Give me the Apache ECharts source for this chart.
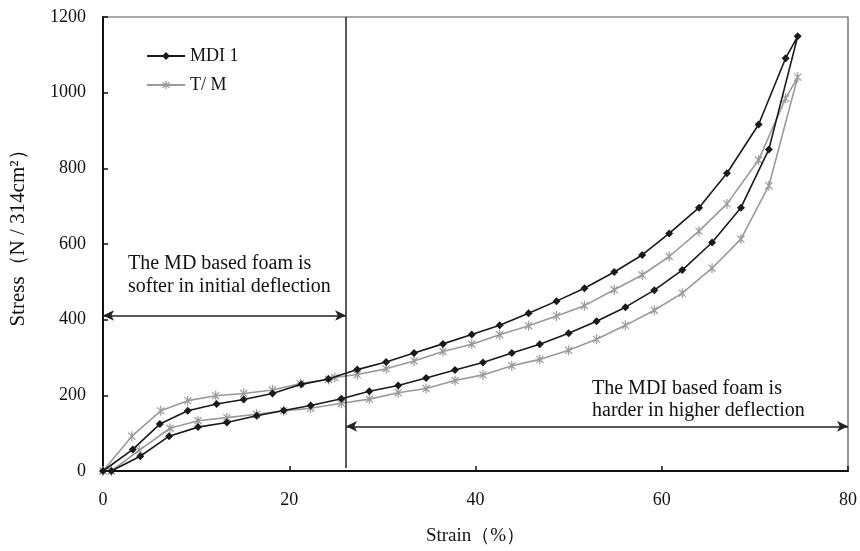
<!DOCTYPE html>
<html>
<head>
<meta charset="utf-8">
<script src="https://cdn.jsdelivr.net/npm/echarts@6/dist/echarts.min.js"></script>
<style>html,body{margin:0;padding:0;background:#fff}#c{width:860px;height:551px}</style>
</head>
<body>
<div id="c"></div>
<script>
// MDI 1: loading branch then unloading branch (strain %, stress N/314cm2)
const mdiStrain = [0, 3.2, 6.1, 9.1, 12.2, 15.1, 18.2, 21.3, 24.2, 27.3, 30.4, 33.4, 36.5, 39.6, 42.6, 45.7, 48.7, 51.7, 54.9, 57.9, 60.8, 64.0, 67.0, 70.4, 73.3, 74.6,
  71.5, 68.5, 65.4, 62.2, 59.2, 56.1, 53.0, 50.0, 46.9, 43.9, 40.8, 37.8, 34.7, 31.7, 28.6, 25.6, 22.3, 19.4, 16.5, 13.3, 10.2, 7.1, 4.0, 0.9];
const mdiStress = [0, 57, 124, 159, 177, 189, 205, 229, 243, 268, 288, 312, 336, 361, 385, 417, 449, 483, 526, 571, 628, 696, 787, 916, 1091, 1149,
  850, 696, 604, 531, 478, 433, 396, 364, 335, 312, 287, 267, 246, 226, 211, 191, 173, 160, 146, 128, 116, 92, 39, 0];
// T/M
const tmStrain = [0, 3.1, 6.2, 9.1, 12.1, 15.1, 18.2, 21.2, 24.2, 24.9, 27.3, 30.4, 33.4, 36.5, 39.6, 42.6, 45.7, 48.7, 51.7, 54.9, 57.9, 60.8, 64.0, 67.0, 70.4, 73.3, 74.6,
  71.5, 68.5, 65.4, 62.2, 59.2, 56.1, 53.0, 50.0, 46.9, 43.9, 40.8, 37.8, 34.7, 31.7, 28.6, 25.6, 22.3, 19.4, 16.5, 13.3, 10.2, 7.2, 3.9, 0.9];
const tmStress = [0, 92, 159, 186, 199, 205, 214, 231, 242, 247, 255, 270, 291, 316, 335, 360, 384, 410, 437, 479, 518, 567, 634, 706, 822, 985, 1041,
  754, 613, 536, 470, 425, 385, 348, 319, 295, 278, 254, 239, 218, 207, 190, 179, 166, 159, 150, 141, 133, 113, 55, 0];

const xTicks = [0, 20, 40, 60, 80];
const yTicks = [0, 200, 400, 600, 800, 1000, 1200];

// annotation values
const dividerStrain = 26.1;
const leftArrowStress = 411;
const rightArrowStress = 118;

const FONT = 'Liberation Serif';
const asterisk = 'path://M8.8 0 L11.2 0 L11.2 20 L8.8 20 Z M3.78 2.08 L17.92 16.22 L16.22 17.92 L2.08 3.78 Z M16.22 2.08 L17.92 3.78 L3.78 17.92 L2.08 16.22 Z';

const chart = echarts.init(document.getElementById('c'), null, {renderer: 'canvas'});
chart.setOption({
  animation: false,
  backgroundColor: '#fff',
  grid: {left: 103, right: 11, top: 17, bottom: 76, show: true, borderColor: '#555', borderWidth: 1.2, backgroundColor: 'transparent'},
  legend: {
    orient: 'vertical', left: 141, top: 42, itemWidth: 38, itemHeight: 10, itemGap: 11,
    textStyle: {fontFamily: FONT, fontSize: 18, color: '#111'},
    data: ['MDI 1', 'T/ M']
  },
  xAxis: {
    type: 'value', min: xTicks[0], max: xTicks[xTicks.length - 1], interval: 20,
    name: 'Strain（%）', nameLocation: 'middle', nameGap: 56,
    nameTextStyle: {fontFamily: FONT, fontSize: 19, color: '#111'},
    axisLine: {lineStyle: {color: '#111', width: 2}},
    axisTick: {inside: true, length: 5, lineStyle: {color: '#111', width: 1.5}},
    axisLabel: {fontFamily: FONT, fontSize: 18, color: '#111', margin: 20},
    splitLine: {show: false}
  },
  yAxis: {
    type: 'value', min: yTicks[0], max: yTicks[yTicks.length - 1], interval: 200,
    name: 'Stress（N / 314cm²）', nameLocation: 'middle', nameGap: 74,
    nameTextStyle: {fontFamily: FONT, fontSize: 21, color: '#111', padding: [0, 0, 0, 22]},
    axisLine: {lineStyle: {color: '#111', width: 2}},
    axisTick: {inside: true, length: 5, lineStyle: {color: '#111', width: 1.5}},
    axisLabel: {fontFamily: FONT, fontSize: 18, color: '#111', margin: 17, formatter: v => String(v)},
    splitLine: {show: false}
  },
  series: [
    {
      name: 'MDI 1', type: 'line',
      data: mdiStrain.map((x, i) => [x, mdiStress[i]]),
      symbol: 'diamond', symbolSize: 8, showAllSymbol: true,
      lineStyle: {color: '#1a1a1a', width: 1.6},
      itemStyle: {color: '#1a1a1a'},
      z: 3
    },
    {
      name: 'T/ M', type: 'line',
      data: tmStrain.map((x, i) => [x, tmStress[i]]),
      symbol: asterisk, symbolSize: 10, symbolKeepAspect: true, showAllSymbol: true,
      lineStyle: {color: '#9a9a9a', width: 1.6},
      itemStyle: {color: '#9a9a9a'},
      z: 2
    },
    {
      name: 'annot', type: 'line', data: [], silent: true,
      markLine: {
        silent: true, animation: false, label: {show: false},
        lineStyle: {color: '#222', width: 1.5, type: 'solid'},
        symbol: ['arrow', 'arrow'], symbolSize: [8, 11],
        data: [
          [{coord: [0, leftArrowStress]}, {coord: [dividerStrain, leftArrowStress]}],
          [{coord: [dividerStrain, rightArrowStress]}, {coord: [80, rightArrowStress]}],
          [{coord: [dividerStrain, 8], symbol: 'none'}, {coord: [dividerStrain, 1200], symbol: 'none'}]
        ]
      }
    }
  ],
  graphic: [
    {type: 'text', left: 128, top: 252, style: {text: 'The MD based foam is\nsofter in initial deflection', font: '20px "Liberation Serif"', fill: '#111', lineHeight: 23}},
    {type: 'text', left: 592, top: 378, style: {text: 'The MDI based foam is\nharder in higher deflection', font: '20px "Liberation Serif"', fill: '#111', lineHeight: 22}}
  ]
});
</script>
</body>
</html>
